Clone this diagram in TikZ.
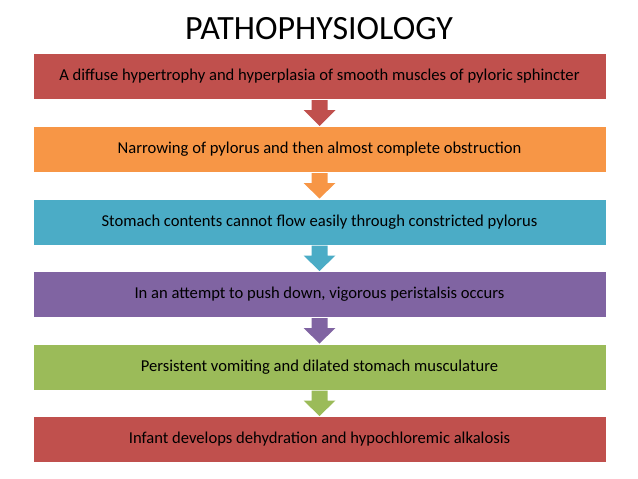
\documentclass[tikz,border=0pt]{standalone}
\usepackage{fontspec}
\setmainfont{Carlito}
\definecolor{cred}{HTML}{C0504D}
\definecolor{corange}{HTML}{F79646}
\definecolor{cteal}{HTML}{4BACC6}
\definecolor{cpurple}{HTML}{8064A2}
\definecolor{cgreen}{HTML}{9BBB59}
\begin{document}
\begin{tikzpicture}[x=1pt,y=-1pt,
  stepbox/.style={draw=white,line width=1pt,minimum width=573pt,minimum height=46pt,inner sep=0pt,font=\fontsize{16.6}{18}\selectfont,anchor=north}]
\useasboundingbox (0,0) rectangle (638,479);
\node[font=\fontsize{34}{38}\selectfont] (title) at (319,29) {PATHOPHYSIOLOGY};
\node[stepbox,fill=cred] (b1) at (319.5,53) {A diffuse hypertrophy and hyperplasia of smooth muscles of pyloric sphincter};
\node[stepbox,fill=corange] (b2) at (319.5,126) {Narrowing of pylorus and then almost complete obstruction};
\node[stepbox,fill=cteal] (b3) at (319.5,198.5) {Stomach contents cannot flow easily through constricted pylorus};
\node[stepbox,fill=cpurple] (b4) at (319.5,271) {In an attempt to push down, vigorous peristalsis occurs};
\node[stepbox,fill=cgreen] (b5) at (319.5,343.5) {Persistent vomiting and dilated stomach musculature};
\node[stepbox,fill=cred] (b6) at (319.5,416) {Infant develops dehydration and hypochloremic alkalosis};
\foreach \a/\b/\c in {b1/b2/cred,b2/b3/corange,b3/b4/cteal,b4/b5/cpurple,b5/b6/cgreen}{
  \fill[\c] ([xshift=-8pt]\a.south) -- ++(0,10) -- ++(-8,0) -- (\b.north) -- ([xshift=16pt,yshift=-10pt]\a.south) -- ++(-8,0) -- ([xshift=8pt]\a.south) -- cycle;
}
\end{tikzpicture}
\end{document}
